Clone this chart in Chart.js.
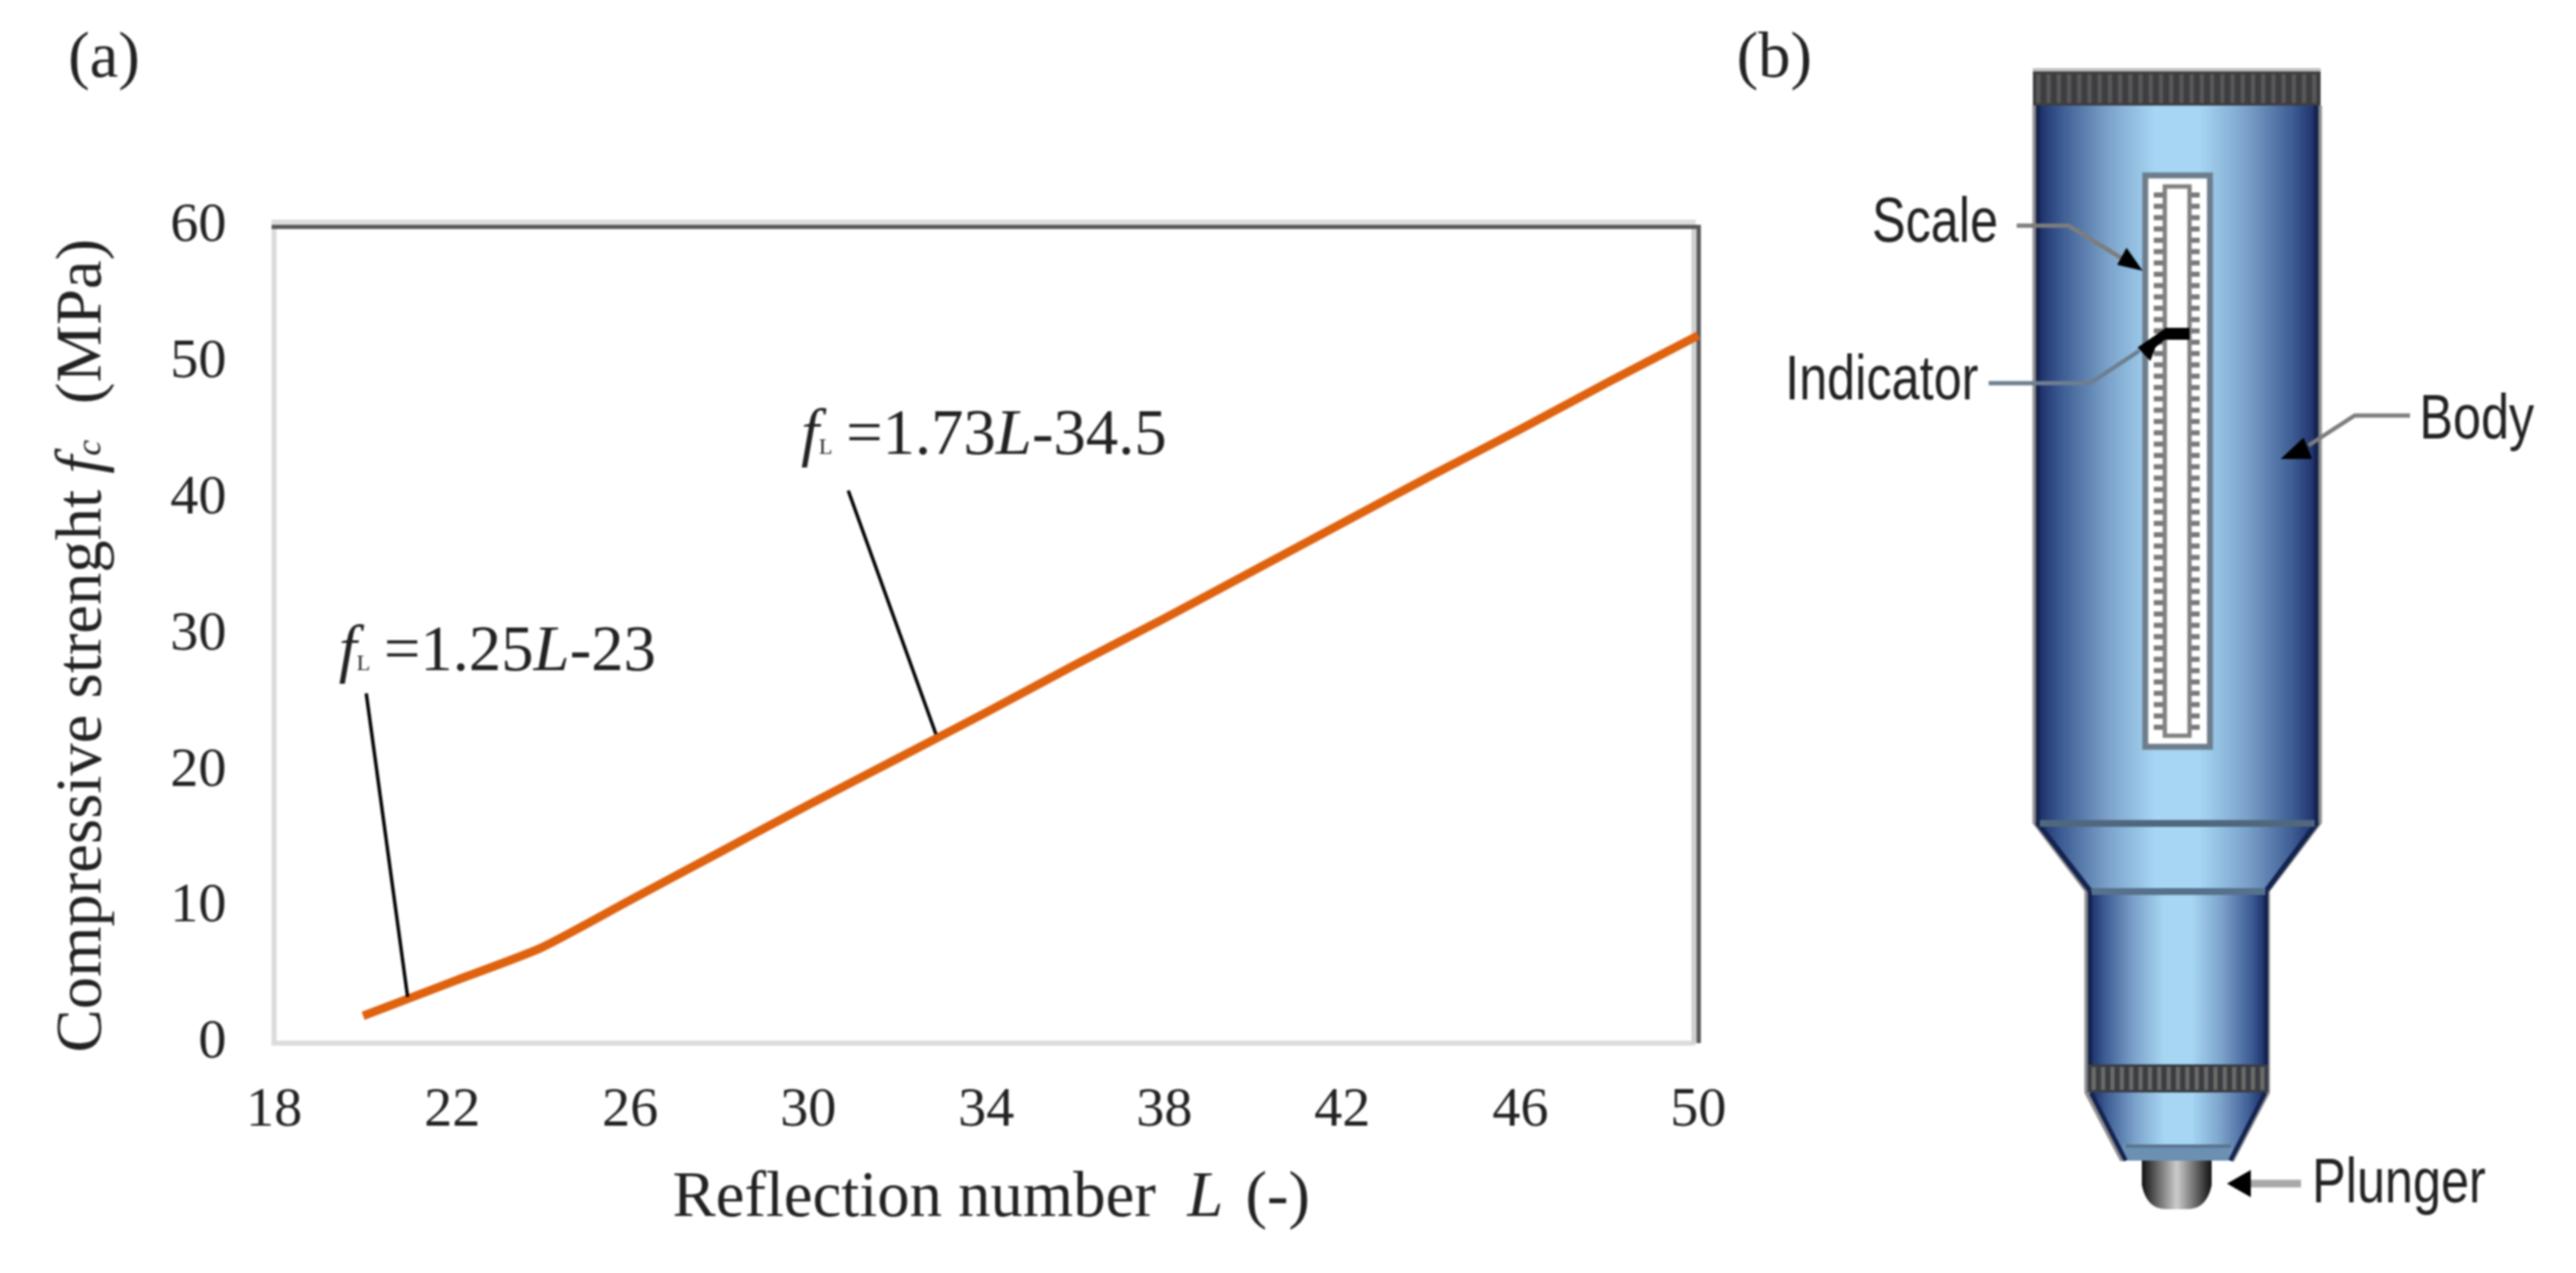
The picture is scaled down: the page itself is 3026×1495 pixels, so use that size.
<!DOCTYPE html>
<html>
<head>
<meta charset="utf-8">
<title>Reflection number chart</title>
<script src="https://cdn.jsdelivr.net/npm/chart.js@4/dist/chart.umd.min.js"></script>
<style>
  html, body { margin: 0; padding: 0; background: #fff; }
  #chart { display: block; filter: blur(0.8px); }
</style>
</head>
<body>
<canvas id="chart" width="3026" height="1495"></canvas>
<script>
"use strict";

var reflectionNumbers = [20, 22, 24, 26, 28, 30, 32, 34, 36, 38, 40, 42, 44, 46, 48, 50];
var compressiveStrengths = [2, 4.5, 7, 10.5, 14, 17.5, 20.9, 24.3, 27.8, 31.2, 34.7, 38.2, 41.7, 45.1, 48.6, 52];
var xTickValues = [18, 22, 26, 30, 34, 38, 42, 46, 50];
var yTickValues = [0, 10, 20, 30, 40, 50, 60];
var lowerLeaderX = [20.07, 21];
var lowerLeaderY = [25.7, 3.4];
var upperLeaderX = [30.9, 32.87];
var upperLeaderY = [40.6, 22.7];

var SERIF = '"Liberation Serif", serif';
var SANS = '"Liberation Sans", sans-serif';
var INK = '#222222';

function toPoints(xs, ys) {
  return xs.map(function (x, i) {
    return { x: x, y: ys[i] };
  });
}

// draws text pieces one after another, each with its own font
function drawRuns(ctx, runs, x, y) {
  var pos = x;
  runs.forEach(function (run) {
    ctx.font = run.font;
    ctx.fillText(run.text, pos, y);
    pos += ctx.measureText(run.text).width + (run.gap || 0);
  });
}

function formula(size, text1, text2) {
  return [
    { text: 'f', font: 'italic ' + size + 'px ' + SERIF },
    { text: 'L', font: '26px ' + SERIF, gap: 16 },
    { text: text1, font: size + 'px ' + SERIF },
    { text: 'L', font: 'italic ' + size + 'px ' + SERIF },
    { text: text2, font: size + 'px ' + SERIF }
  ];
}

// labels of the sketch are narrower than the plain font
function narrowLabel(ctx, text, x, y) {
  ctx.save();
  ctx.translate(x, y);
  ctx.scale(0.8, 1);
  ctx.fillText(text, 0, 0);
  ctx.restore();
}

var plotFrame = {
  id: 'plotFrame',
  beforeDatasetsDraw: function (chart) {
    var ctx = chart.ctx, a = chart.chartArea;
    ctx.save();
    ctx.fillStyle = '#dcdcdc';
    ctx.fillRect(a.left - 3, a.top - 8, 6, a.bottom - a.top + 11);
    ctx.fillRect(a.left - 3, a.bottom - 3, a.right - a.left, 6);
    ctx.fillRect(a.left - 3, a.top - 8, a.right - a.left, 6);
    ctx.fillStyle = '#cfcfcf';
    ctx.fillRect(a.right - 8, a.top - 2, 6, a.bottom - a.top + 2);
    ctx.fillStyle = '#5a5a5a';
    ctx.fillRect(a.left - 3, a.top - 2, a.right - a.left + 3, 5);
    ctx.fillRect(a.right - 2, a.top - 2, 5, a.bottom - a.top + 2);
    ctx.restore();
  }
};

var chartTexts = {
  id: 'chartTexts',
  afterDraw: function (chart) {
    var ctx = chart.ctx;
    ctx.save();
    ctx.fillStyle = INK;
    ctx.textBaseline = 'alphabetic';
    ctx.textAlign = 'left';

    ctx.font = '76px ' + SERIF;
    ctx.fillText('(a)', 80, 90);
    ctx.fillText('(b)', 2040, 90);

    drawRuns(ctx, [
      { text: 'Reflection number ', font: '76px ' + SERIF, gap: 18 },
      { text: 'L', font: 'italic 76px ' + SERIF, gap: 26 },
      { text: '(-)', font: '76px ' + SERIF }
    ], 790, 1428);

    drawRuns(ctx, formula(76, '=1.25', '-23'), 398, 787);
    drawRuns(ctx, formula(76, '=1.73', '-34.5'), 941, 533);

    ctx.save();
    ctx.translate(118, 1236);
    ctx.rotate(-Math.PI / 2);
    drawRuns(ctx, [
      { text: 'Compressive strenght ', font: '76px ' + SERIF },
      { text: 'f', font: 'italic 76px ' + SERIF },
      { text: 'c', font: 'italic 42px ' + SERIF, gap: 42 },
      { text: '(MPa)', font: '76px ' + SERIF }
    ], 0, 0);
    ctx.restore();
    ctx.restore();
  }
};

function sideGradient(ctx, x0, x1) {
  var g = ctx.createLinearGradient(x0, 0, x1, 0);
  g.addColorStop(0, '#1b2d66');
  g.addColorStop(0.08, '#3b5a92');
  g.addColorStop(0.25, '#7ba2ca');
  g.addColorStop(0.42, '#a6d6f3');
  g.addColorStop(0.58, '#a6d6f3');
  g.addColorStop(0.75, '#7ba2ca');
  g.addColorStop(0.92, '#3b5a92');
  g.addColorStop(1, '#1b2d66');
  return g;
}

function poly(ctx, pts, fill, stroke, width) {
  ctx.beginPath();
  pts.forEach(function (p, i) {
    if (i === 0) ctx.moveTo(p[0], p[1]);
    else ctx.lineTo(p[0], p[1]);
  });
  if (fill) {
    ctx.closePath();
    ctx.fillStyle = fill;
    ctx.fill();
  }
  if (stroke) {
    ctx.strokeStyle = stroke;
    ctx.lineWidth = width;
    ctx.stroke();
  }
}

function knurl(ctx, x0, x1, y0, y1, base, stripe, step) {
  ctx.fillStyle = base;
  ctx.fillRect(x0, y0, x1 - x0, y1 - y0);
  ctx.fillStyle = stripe;
  for (var x = x0 + 4; x < x1 - 4; x += step) {
    ctx.fillRect(x, y0 + 3, 5, y1 - y0 - 6);
  }
}

// panel (b) is a picture of the hammer, not data
var hammerSketch = {
  id: 'hammerSketch',
  afterDraw: function (chart) {
    var ctx = chart.ctx;
    ctx.save();

    // grey halo of the outline
    poly(ctx, [[2390, 124], [2390, 966], [2451, 1046], [2451, 1283], [2493, 1363]], null, '#8f8f8f', 5);
    poly(ctx, [[2725, 124], [2725, 966], [2664, 1046], [2664, 1283], [2622, 1363]], null, '#8f8f8f', 5);

    // plunger
    var pg = ctx.createLinearGradient(2516, 0, 2598, 0);
    pg.addColorStop(0, '#111111');
    pg.addColorStop(0.22, '#666666');
    pg.addColorStop(0.5, '#cccccc');
    pg.addColorStop(0.78, '#666666');
    pg.addColorStop(1, '#111111');
    ctx.beginPath();
    ctx.moveTo(2516, 1360);
    ctx.lineTo(2598, 1360);
    ctx.lineTo(2598, 1392);
    ctx.quadraticCurveTo(2592, 1420, 2570, 1420);
    ctx.lineTo(2544, 1420);
    ctx.quadraticCurveTo(2522, 1420, 2516, 1392);
    ctx.closePath();
    ctx.fillStyle = pg;
    ctx.fill();

    // nose cone
    poly(ctx, [[2457, 1283], [2660, 1283], [2620, 1363], [2497, 1363]], sideGradient(ctx, 2457, 2660));
    ctx.fillStyle = '#6c90b3';
    ctx.fillRect(2493, 1344, 130, 19);
    ctx.fillStyle = '#5a7590';
    ctx.fillRect(2497, 1344, 124, 4);
    poly(ctx, [[2456, 1283], [2497, 1363]], null, '#14234f', 5);
    poly(ctx, [[2661, 1283], [2620, 1363]], null, '#14234f', 5);

    // narrow barrel
    ctx.fillStyle = sideGradient(ctx, 2455, 2662);
    ctx.fillRect(2455, 1046, 207, 205);
    poly(ctx, [[2455, 1046], [2455, 1283]], null, '#14234f', 5);
    poly(ctx, [[2662, 1046], [2662, 1283]], null, '#14234f', 5);

    // shoulder
    poly(ctx, [[2394, 966], [2721, 966], [2662, 1046], [2455, 1046]], sideGradient(ctx, 2394, 2721));
    poly(ctx, [[2393, 966], [2455, 1046]], null, '#14234f', 6);
    poly(ctx, [[2722, 966], [2662, 1046]], null, '#14234f', 6);
    ctx.fillStyle = '#56718b';
    ctx.fillRect(2457, 1043, 204, 8);

    // main body
    ctx.fillStyle = sideGradient(ctx, 2394, 2721);
    ctx.fillRect(2394, 120, 327, 846);
    poly(ctx, [[2394, 120], [2394, 968]], null, '#14234f', 5);
    poly(ctx, [[2721, 120], [2721, 968]], null, '#14234f', 5);
    ctx.fillStyle = '#50677e';
    ctx.fillRect(2396, 963, 323, 8);

    // top and lower knurled rings
    knurl(ctx, 2388, 2726, 84, 124, '#3e3e40', '#58585a', 12);
    ctx.fillStyle = '#c0c0c0';
    ctx.fillRect(2388, 80, 338, 4);
    knurl(ctx, 2453, 2664, 1250, 1283, '#3a3d42', '#6a6a68', 11);

    // scale window
    ctx.fillStyle = '#ffffff';
    ctx.fillRect(2517, 203, 82, 677);
    ctx.strokeStyle = '#6d7d8c';
    ctx.lineWidth = 7;
    ctx.strokeRect(2520, 206, 76, 671);
    ctx.fillStyle = '#7a7a7a';
    for (var y = 226; y < 862; y += 13.3) {
      ctx.fillRect(2530, y, 13, 6);
      ctx.fillRect(2572, y, 12, 6);
    }
    ctx.strokeStyle = '#808080';
    ctx.lineWidth = 5;
    ctx.strokeRect(2543, 219, 29, 645);

    // indicator
    ctx.fillStyle = '#000000';
    ctx.fillRect(2543, 385, 29, 14);
    poly(ctx, [[2543, 386], [2543, 399], [2532, 408], [2526, 424], [2511, 408], [2530, 395]], '#000000');

    // leader lines with arrow heads
    poly(ctx, [[2369, 265], [2430, 265], [2500, 308]], null, '#7d7d7d', 5);
    poly(ctx, [[2517, 318], [2487, 311], [2498, 291]], '#000000');
    poly(ctx, [[2336, 450], [2455, 450], [2513, 412]], null, '#6d7f90', 5);
    poly(ctx, [[2831, 488], [2766, 488], [2712, 523]], null, '#7d7d7d', 5);
    poly(ctx, [[2679, 539], [2716, 539], [2706, 514]], '#000000');
    poly(ctx, [[2703, 1390], [2640, 1390]], null, '#a8a8a8', 9);
    poly(ctx, [[2616, 1390], [2644, 1374], [2644, 1406]], '#000000');

    ctx.fillStyle = '#222222';
    ctx.font = '74px ' + SANS;
    ctx.textAlign = 'left';
    ctx.textBaseline = 'alphabetic';
    narrowLabel(ctx, 'Scale', 2199, 284);
    narrowLabel(ctx, 'Indicator', 2097, 469);
    narrowLabel(ctx, 'Body', 2842, 515);
    narrowLabel(ctx, 'Plunger', 2716, 1412);
    ctx.restore();
  }
};

var hammerChart = new Chart(document.getElementById('chart').getContext('2d'), {
  type: 'scatter',
  data: {
    datasets: [
      {
        label: 'Compressive strength',
        data: toPoints(reflectionNumbers, compressiveStrengths),
        showLine: true,
        borderColor: '#df620f',
        borderWidth: 10,
        tension: 0.2,
        pointRadius: 0,
        clip: false,
        order: 2
      },
      {
        label: 'Lower leader',
        data: toPoints(lowerLeaderX, lowerLeaderY),
        showLine: true,
        borderColor: '#000000',
        borderWidth: 4,
        pointRadius: 0,
        order: 1
      },
      {
        label: 'Upper leader',
        data: toPoints(upperLeaderX, upperLeaderY),
        showLine: true,
        borderColor: '#000000',
        borderWidth: 4,
        pointRadius: 0,
        order: 1
      }
    ]
  },
  options: {
    responsive: false,
    animation: false,
    devicePixelRatio: 1,
    layout: { padding: { left: 0, top: 266, right: 1031, bottom: 0 } },
    plugins: {
      legend: { display: false },
      title: { display: false },
      tooltip: { enabled: false }
    },
    scales: {
      x: {
        type: 'linear',
        min: 18,
        max: 50,
        grid: { display: false },
        border: { display: false },
        afterFit: function (scale) { scale.height = 270; },
        afterBuildTicks: function (scale) {
          scale.ticks = xTickValues.map(function (v) { return { value: v }; });
        },
        ticks: {
          autoSkip: false,
          maxRotation: 0,
          padding: 32,
          color: INK,
          font: { family: SERIF, size: 66 }
        }
      },
      y: {
        type: 'linear',
        min: 0,
        max: 60,
        grid: { display: false },
        border: { display: false },
        afterFit: function (scale) { scale.width = 322; },
        afterBuildTicks: function (scale) {
          scale.ticks = yTickValues.map(function (v) { return { value: v }; });
        },
        ticks: {
          padding: 48,
          color: INK,
          font: { family: SERIF, size: 66 }
        }
      }
    }
  },
  plugins: [plotFrame, chartTexts, hammerSketch]
});
</script>
</body>
</html>
